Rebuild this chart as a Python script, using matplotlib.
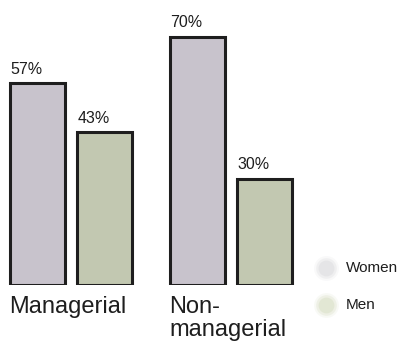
import numpy as np
import matplotlib
matplotlib.use("Agg")
from matplotlib import pyplot as plt

plt.rcParams['font.family'] = ['Liberation Sans', 'DejaVu Sans']

# data
categories = ["Managerial", "Non-\nmanagerial"]
series = ["Women", "Men"]
women = [57, 70]
men = [43, 30]

colors = {"Women": "#c8c3cc", "Men": "#c2c8b1"}
legend_dots = {"Women": "#e2e2e4", "Men": "#dfe4cf"}
ink = "#1e1e1e"

W, H = 401, 342
fig = plt.figure(figsize=(W / 100, H / 100), dpi=100)

# axes: bottom of bars at y=285px, 160px between group centres
bottom = 1 - 285 / H
ax = fig.add_axes([0, bottom, 1, 1 - bottom])
px_per_unit = 160.0
ax.set_xlim(-70.5 / px_per_unit, (W - 70.5) / px_per_unit)
ax.set_ylim(0, 285 / 3.55)
ax.axis('off')

x = np.arange(len(categories))
width = 55 / px_per_unit
offset = 33.5 / px_per_unit

for vals, name, sign in [(women, "Women", -1), (men, "Men", 1)]:
    pos = x + sign * offset
    ax.bar(pos, vals, width, color=colors[name], edgecolor=ink, linewidth=2.2)
    for p, v in zip(pos, vals):
        ax.annotate(f"{v}%", xy=(p - width / 2, v), xytext=(0.5, 6.5),
                    textcoords='offset points', ha='left', va='baseline',
                    fontsize=11.5, color=ink)

for xi, cat in zip(x, categories):
    ax.annotate(cat, xy=(xi - offset - width / 2, 0), xytext=(0, -8),
                textcoords='offset points', ha='left', va='top',
                fontsize=17, color=ink, linespacing=1.05)

# soft legend
for name, ypx in [("Women", 268), ("Men", 305)]:
    fx, fy = 326 / W, 1 - ypx / H
    for s, a in [(320, 0.2), (220, 0.4), (130, 0.75)]:
        fig.add_artist(plt.Line2D([fx], [fy], marker='o', markersize=np.sqrt(s),
                                  color=legend_dots[name], alpha=a,
                                  markeredgewidth=0, transform=fig.transFigure))
    fig.text(346 / W, fy, name, ha='left', va='center', fontsize=11, color=ink)

fig.savefig("out.png", dpi=100, facecolor='white')
